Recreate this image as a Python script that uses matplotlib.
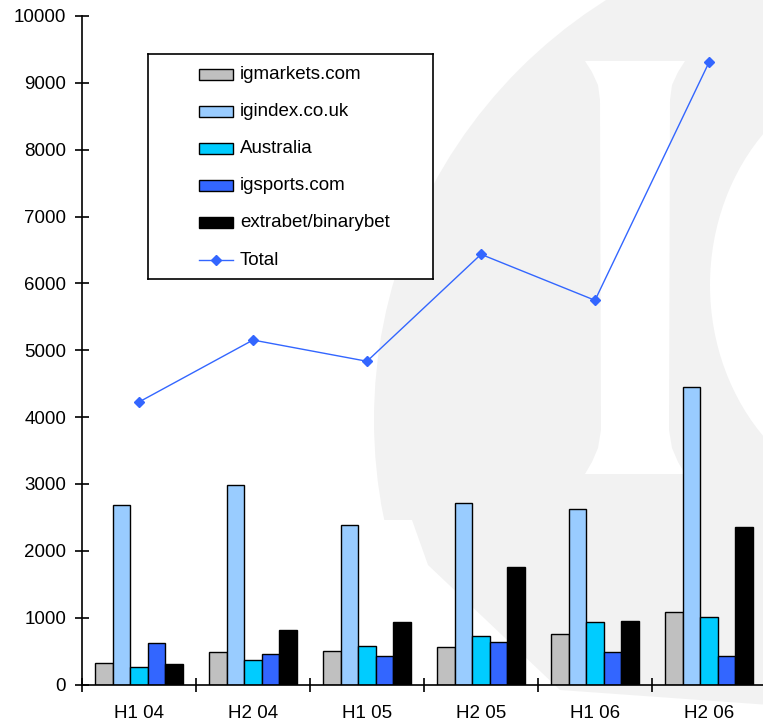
import numpy as np
import matplotlib
matplotlib.use("Agg")
import matplotlib.pyplot as plt
from matplotlib.patches import Rectangle, Circle, Ellipse, Polygon
from matplotlib.lines import Line2D

# Revenue by half-year and site
periods = ["H1 04", "H2 04", "H1 05", "H2 05", "H1 06", "H2 06"]
igmarkets = [326, 481, 506, 556, 755, 1085]
igindex = [2680, 2990, 2390, 2720, 2620, 4450]
australia = [266, 366, 576, 730, 930, 1005]
igsports = [616, 461, 422, 636, 481, 422]
extrabet = [311, 815, 935, 1765, 955, 2352]
total = [4226, 5153, 4835, 6435, 5747, 9307]

series_names = ["igmarkets.com", "igindex.co.uk", "Australia", "igsports.com", "extrabet/binarybet"]
series_colors = ["#c0c0c0", "#99ccff", "#00ccff", "#3366ff", "#000000"]
line_color = "#3366ff"

plt.rcParams["font.family"] = ["Liberation Sans", "DejaVu Sans"]
FS = 13.5

W, H = 763, 725
fig = plt.figure(figsize=(W / 100, H / 100), dpi=100)

# faint logo in the background, drawn in pixel space
bg = fig.add_axes([0, 0, 1, 1], zorder=0)
bg.set_xlim(0, W)
bg.set_ylim(H, 0)
bg.axis("off")
gray = "#f2f2f2"
bg.add_patch(Circle((870, 420), 496, color=gray, lw=0))
bg.add_patch(Ellipse((905, 285), 390, 440, color="white", lw=0))
bg.add_patch(Polygon([(585, 61), (685, 61), (678, 72), (672, 85), (670, 100),
                      (669, 430), (672, 448), (678, 462), (685, 474),
                      (585, 474), (592, 462), (598, 448), (601, 430),
                      (600, 100), (598, 85), (592, 72)], color="white", lw=0))
bg.add_patch(Polygon([(360, 520), (412, 520), (428, 565), (560, 690),
                      (770, 705), (770, 730), (360, 730)], color="white", lw=0))

# main chart
ax = fig.add_axes([82 / W, 1 - 684.5 / H, 684 / W, 668.5 / H], zorder=1)
ax.patch.set_alpha(0)

x = np.arange(len(periods))
values = [igmarkets, igindex, australia, igsports, extrabet]
bw = 0.1535
start = 0.5 - bw * len(values) / 2
for i, (vals, col) in enumerate(zip(values, series_colors)):
    ax.bar(x + start + i * bw, vals, width=bw, align="edge", color=col,
           edgecolor="black", linewidth=1.0, zorder=2)

ax.plot(x + 0.5, total, color=line_color, lw=1.0, marker="D", ms=5, zorder=3)

ax.set_xlim(0, len(periods))
ax.set_ylim(0, 10000)
ax.set_yticks(range(0, 10001, 1000))
ax.set_xticks(np.arange(len(periods) + 1))
ax.set_xticklabels([])
ax.set_xticks(x + 0.5, minor=True)
ax.set_xticklabels(periods, minor=True)

for side in ["top", "right"]:
    ax.spines[side].set_visible(False)
for side in ["left", "bottom"]:
    ax.spines[side].set_linewidth(1.2)
    ax.spines[side].set_color("black")

ax.tick_params(axis="y", direction="inout", length=9.4, width=1.2, pad=6.8, labelsize=FS)
ax.tick_params(axis="x", which="major", direction="inout", length=10, width=1.2)
ax.tick_params(axis="x", which="minor", length=0, pad=15, labelsize=FS)

# legend box
lax = fig.add_axes([148 / W, 1 - 279 / H, 285 / W, 225 / H], zorder=4)
lax.set_xlim(148, 433)
lax.set_ylim(279, 54)
lax.set_xticks([])
lax.set_yticks([])
for sp in lax.spines.values():
    sp.set_linewidth(1.2)
    sp.set_color("black")

row_y = 74.3
for name, col in zip(series_names, series_colors):
    lax.add_patch(Rectangle((199, row_y - 5.5), 34, 11, facecolor=col,
                            edgecolor="black", lw=1.0))
    lax.text(240, row_y, name, va="center", ha="left", fontsize=FS)
    row_y += 37.15
lax.add_line(Line2D([199, 233], [row_y, row_y], color=line_color, lw=1.0))
lax.plot([216], [row_y], marker="D", ms=5, color=line_color)
lax.text(240, row_y, "Total", va="center", ha="left", fontsize=FS)

fig.savefig("out.png", dpi=100)
